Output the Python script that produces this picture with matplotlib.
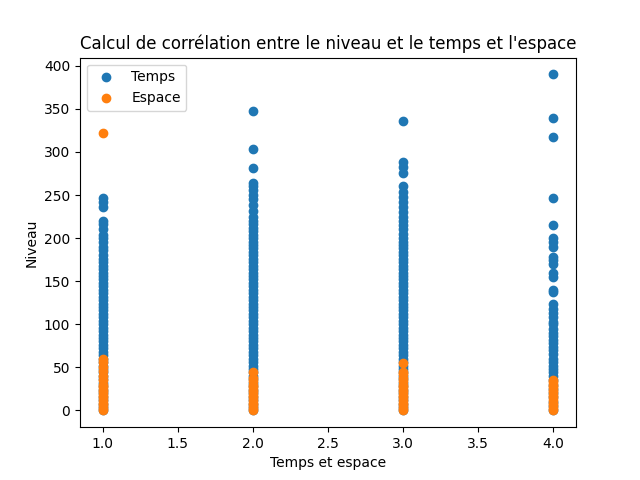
import matplotlib
matplotlib.use("Agg")
import matplotlib.pyplot as plt

# Niveau values, per Temps/Espace column
temps_1 = [0, 4, 8, 12, 16, 20, 24, 28, 32, 36, 40, 44, 48, 52, 56, 60, 64, 68, 72,
           76, 80, 84, 88, 92, 96, 100, 104, 108, 112, 116, 120, 124, 128, 132, 136,
           140, 144, 148, 152, 156, 160, 164, 168, 172, 176, 180, 186, 190, 195, 200,
           204, 210, 216, 220, 236, 242, 246]
temps_2 = [0, 4, 8, 12, 16, 20, 24, 28, 32, 36, 40, 44, 48, 52, 56, 60, 64, 68, 72,
           76, 80, 84, 88, 92, 96, 100, 104, 108, 112, 116, 120, 124, 128, 132, 136,
           140, 144, 148, 152, 156, 160, 164, 168, 172, 176, 180, 184, 188, 192, 196,
           200, 204, 208, 212, 216, 220, 224, 232, 238, 245, 250, 256, 260, 264, 281,
           303, 347]
temps_3 = [0, 4, 8, 12, 16, 20, 24, 28, 32, 36, 40, 44, 48, 52, 56, 60, 64, 68, 72,
           76, 80, 84, 88, 92, 96, 100, 104, 108, 112, 116, 120, 124, 128, 132, 136,
           140, 144, 148, 152, 156, 160, 164, 168, 172, 176, 180, 184, 188, 192, 196,
           200, 205, 210, 215, 220, 225, 230, 236, 242, 248, 254, 260, 275, 282, 288,
           336]
temps_4 = [0, 5, 10, 15, 20, 25, 30, 35, 40, 44, 48, 52, 56, 60, 65, 70, 74, 78, 82,
           86, 90, 95, 100, 103, 108, 113, 118, 123, 138, 140, 155, 160, 170, 175,
           178, 190, 195, 200, 215, 246, 317, 339, 390]
espace_1 = [0, 3, 6, 9, 12, 15, 18, 21, 24, 27, 30, 35, 40, 46, 50, 56, 60, 322]
espace_2 = [0, 3, 6, 9, 12, 15, 18, 21, 24, 27, 30, 34, 38, 45]
espace_3 = [0, 3, 6, 9, 12, 15, 18, 21, 24, 27, 30, 34, 38, 42, 45, 55]
espace_4 = [0, 3, 6, 9, 12, 15, 18, 21, 24, 27, 30, 33, 35]

temps_x = [1.0] * len(temps_1) + [2.0] * len(temps_2) + [3.0] * len(temps_3) + [4.0] * len(temps_4)
temps_y = temps_1 + temps_2 + temps_3 + temps_4
espace_x = [1.0] * len(espace_1) + [2.0] * len(espace_2) + [3.0] * len(espace_3) + [4.0] * len(espace_4)
espace_y = espace_1 + espace_2 + espace_3 + espace_4

fig = plt.figure(figsize=(6.4, 4.8), dpi=100)
plt.scatter(temps_x, temps_y, label="Temps")
plt.scatter(espace_x, espace_y, label="Espace")
plt.title("Calcul de corrélation entre le niveau et le temps et l'espace")
plt.xlabel("Temps et espace")
plt.ylabel("Niveau")
plt.legend(loc="upper left")
plt.savefig("out.png")
